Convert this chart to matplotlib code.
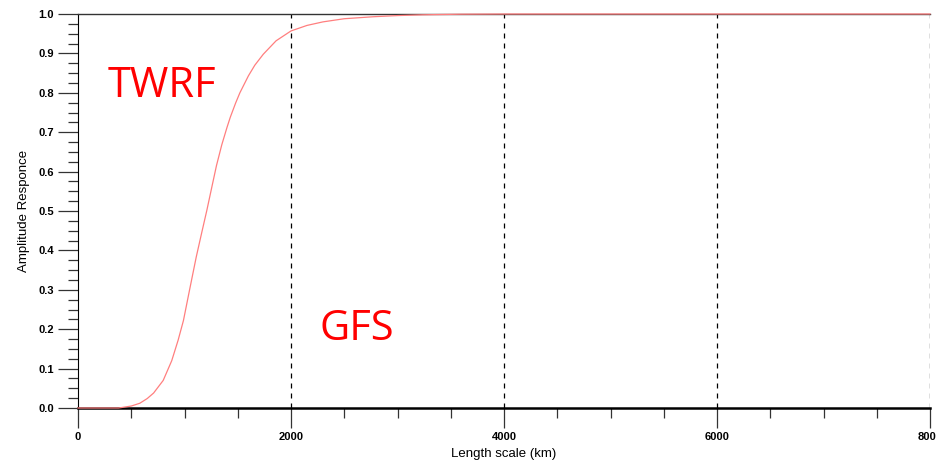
import matplotlib
matplotlib.use("Agg")
import matplotlib.pyplot as plt
from matplotlib.ticker import MultipleLocator, FormatStrFormatter

length_km = [0, 380, 430, 500, 580, 650, 710, 800, 880, 940, 990, 1050, 1110,
             1160, 1210, 1260, 1300, 1350, 1400, 1430, 1480, 1520, 1600, 1660,
             1740, 1860, 2000, 2150, 2300, 2500, 2770, 3000, 3240, 3600, 4000,
             5000, 6000, 7000, 8000]
amplitude = [0.0, 0.0, 0.002, 0.005, 0.012, 0.024, 0.038, 0.07, 0.12, 0.172,
             0.222, 0.303, 0.383, 0.443, 0.502, 0.565, 0.615, 0.668, 0.713, 0.738,
             0.774, 0.800, 0.843, 0.870, 0.898, 0.932, 0.957, 0.971, 0.980, 0.988,
             0.993, 0.996, 0.998, 0.9995, 1.0, 1.0, 1.0, 1.0, 1.0]
grid_x = [2000, 4000, 6000, 8000]
annotations = [("TWRF", 282, 0.789), ("GFS", 2272, 0.173)]

fig = plt.figure(figsize=(9.36, 4.67), dpi=100)
ax = fig.add_axes([78/936, 59/467, (930-78)/936, (408-14)/467])

ax.plot(length_km, amplitude, color="#ff7f7f", lw=0.9, clip_on=False, zorder=3,
        solid_joinstyle="round")
for gx in grid_x:
    ax.axvline(gx, color="black", lw=0.9, ls=(0, (4, 4)), zorder=1)

ax.set_xlim(0, 8000)
ax.set_ylim(0, 1.0)
ax.xaxis.set_major_locator(MultipleLocator(2000))
ax.xaxis.set_minor_locator(MultipleLocator(500))
ax.yaxis.set_major_locator(MultipleLocator(0.1))
ax.yaxis.set_minor_locator(MultipleLocator(0.025))
ax.yaxis.set_major_formatter(FormatStrFormatter("%.1f"))

ax.tick_params(which="major", direction="out", length=14.4, width=0.9, color="#333333",
               labelsize=8, pad=3)
ax.tick_params(which="minor", direction="out", length=7.2, width=0.9, color="#333333")
for lab in ax.get_xticklabels() + ax.get_yticklabels():
    lab.set_fontweight("bold")
    lab.set_family("Liberation Sans")

ax.spines["right"].set_visible(False)
ax.spines["bottom"].set_linewidth(1.8)
ax.spines["left"].set_linewidth(0.8)
ax.spines["top"].set_linewidth(1.0)
ax.spines["top"].set_color("#333333")

ax.set_xlabel("Length scale (km)", family="Liberation Sans", fontsize=9.5, labelpad=4)
ax.set_ylabel("Amplitude Responce", family="Liberation Sans", fontsize=9.5, labelpad=6)

for txt, x, y in annotations:
    ax.text(x, y, txt, color="red", fontsize=30, family="Open Sans", ha="left",
            va="baseline")

fig.savefig("out.png", dpi=100)
